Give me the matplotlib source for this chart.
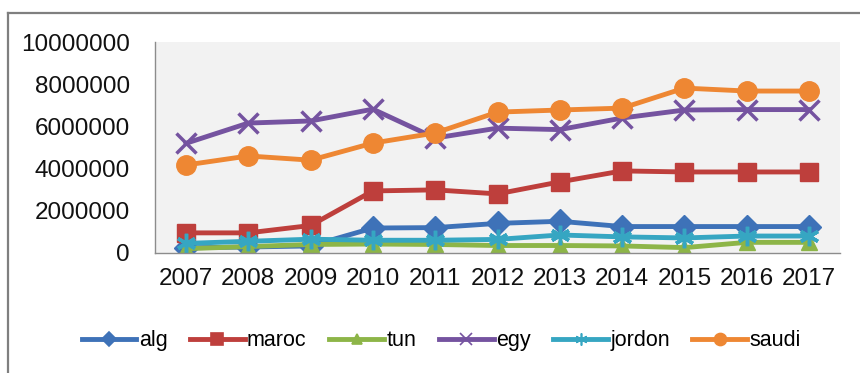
import matplotlib
matplotlib.use("Agg")
import matplotlib.pyplot as plt
from matplotlib.lines import Line2D

plt.rcParams["font.family"] = ["Liberation Sans", "DejaVu Sans"]

years = ["2007", "2008", "2009", "2010", "2011", "2012", "2013", "2014", "2015", "2016", "2017"]

alg = [240000, 280000, 330000, 1180000, 1200000, 1400000, 1500000, 1250000, 1250000, 1250000, 1250000]
maroc = [950000, 950000, 1300000, 2940000, 2990000, 2800000, 3370000, 3890000, 3840000, 3840000, 3840000]
tun = [200000, 300000, 400000, 420000, 400000, 350000, 350000, 330000, 250000, 500000, 500000]
egy = [5200000, 6160000, 6260000, 6820000, 5450000, 5920000, 5850000, 6400000, 6780000, 6800000, 6800000]
jordon = [450000, 550000, 650000, 600000, 600000, 640000, 850000, 760000, 710000, 800000, 800000]
saudi = [4170000, 4600000, 4400000, 5210000, 5690000, 6680000, 6780000, 6870000, 7820000, 7680000, 7680000]

series = [
    ("alg", alg, "#3E72B8", "D", 12),
    ("maroc", maroc, "#BE3F3C", "s", 13),
    ("tun", tun, "#8DB548", "^", 12),
    ("egy", egy, "#7553A0", "x", 14),
    ("jordon", jordon, "#36A6C2", (6, 2, 0), 14),
    ("saudi", saudi, "#EE8733", "o", 14),
]

fig = plt.figure(figsize=(8.6, 3.73), dpi=100)
ax = fig.add_axes([0.180, 0.322, 0.797, 0.565])
ax.set_facecolor("#F2F2F2")

x = list(range(len(years)))
for name, vals, color, marker, ms in series:
    ax.plot(x, vals, color=color, lw=3.5, marker=marker, markersize=ms,
            markeredgewidth=2.5 if marker in ("x", (6, 2, 0)) else 1,
            markeredgecolor=color, label=name)

ax.set_xlim(-0.5, len(years) - 0.5)
ax.set_ylim(0, 10000000)
ax.set_yticks(range(0, 10000001, 2000000))
ax.set_yticklabels([str(v) for v in range(0, 10000001, 2000000)])
ax.set_xticks(x)
ax.set_xticklabels(years)
ax.tick_params(length=0, labelsize=17.5, colors="#111111")
ax.tick_params(axis="y", pad=18)
ax.tick_params(axis="x", pad=11)
for side in ("top", "right"):
    ax.spines[side].set_visible(False)
for side in ("left", "bottom"):
    ax.spines[side].set_color("#8C8C8C")
    ax.spines[side].set_linewidth(1.0)

# legend keys use smaller markers than the plotted series
handles = [Line2D([], [], color=c, lw=3.5, marker=m, markersize=ms * 0.62,
                  markeredgewidth=1.2, markeredgecolor=c)
           for _, _, c, m, ms in series]
fig.legend(handles, [s[0] for s in series], loc="center",
           bbox_to_anchor=(0.513, 0.086), ncol=6, frameon=False,
           fontsize=15.5, handlelength=2.55, handletextpad=0.1, columnspacing=1.05,
           borderpad=0, borderaxespad=0)

# outer chart border
fig.add_artist(Line2D([0.0093, 1.0], [0.965, 0.965], transform=fig.transFigure,
                      color="#7F7F7F", lw=1.6))
fig.add_artist(Line2D([0.0093, 0.0093], [0.0, 0.965], transform=fig.transFigure,
                      color="#7F7F7F", lw=1.6))

fig.savefig("out.png", dpi=100)
